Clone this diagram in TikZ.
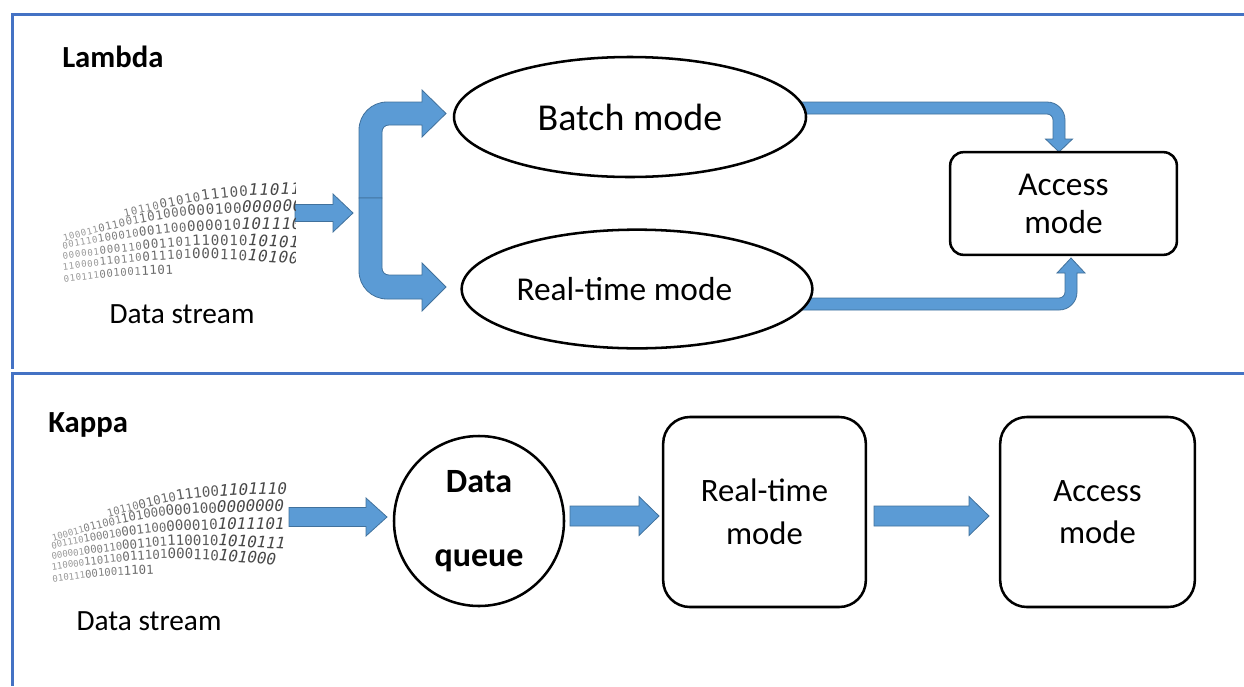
\documentclass[tikz,border=0pt]{standalone}
\usepackage{fontspec}
\setmainfont{Carlito}
\newfontfamily\bitfont{DejaVu Sans Mono}
\usetikzlibrary{calc,decorations.text,shapes.geometric}
\definecolor{panel}{RGB}{68,114,196}
\definecolor{afill}{RGB}{91,155,213}
\definecolor{aedge}{RGB}{65,113,156}
\pgfdeclarelayer{bg}
\pgfsetlayers{bg,main}
\newcommand\bsA{\bitfont\fontsize{6.8}{7}\selectfont\color{black!40}}
\newcommand\bsB{\bitfont\fontsize{8}{8}\selectfont\color{black!50}}
\newcommand\bsC{\bitfont\fontsize{9.3}{10}\selectfont\color{black!58}}
\newcommand\bsD{\bitfont\fontsize{10.6}{11}\selectfont\color{black!65}}
\newcommand\bsE{\bitfont\fontsize{11.9}{12}\selectfont\itshape\color{black!72}}
\tikzset{
  bitrow/.style={decorate, decoration={text along path, text align=fit to path, text={#1}}},
  ellip/.style={ellipse, draw, line width=1.9pt, fill=white, inner sep=0pt},
  rbox/.style={rectangle, draw, line width=1.9pt, fill=white, align=center, inner sep=0pt},
  circ/.style={circle, draw, line width=1.9pt, fill=white, align=center, inner sep=0pt},
  blockarrow/.style={fill=afill, draw=aedge, line width=0.6pt, line join=miter},
  panelline/.style={draw=panel, line width=2.25pt},
  lbl/.style={inner sep=0pt}
}
\newcommand\harrow[6]{%
  \filldraw[blockarrow] ({#1},{#4-#5}) -- ({#2},{#4-#5}) -- ({#2},{#4-#6}) -- ({#3},{#4})
    -- ({#2},{#4+#6}) -- ({#2},{#4+#5}) -- ({#1},{#4+#5}) -- cycle;}
\newcommand\bitrows[3]{%
  \path[bitrow={|\bsB|10110|\bsC|01010|\bsD|11100|\bsE|1101110}]
    ({#2+#1*56},{#3+27}) .. controls ({#2+#1*140},{#3+6}) .. ({#2+#1*235},{#3+4});
  \path[bitrow={|\bsA|100011|\bsB|011001|\bsC|101000|\bsD|000100|\bsE|00000001}]
    ({#2+#1*1},{#3+51}) .. controls ({#2+#1*100},{#3+24}) .. ({#2+#1*236},{#3+21});
  \path[bitrow={|\bsA|001110|\bsB|100010|\bsC|001100|\bsD|000010|\bsE|10111010}]
    ({#2+#1*0},{#3+59}) .. controls ({#2+#1*100},{#3+40}) .. ({#2+#1*235},{#3+39});
  \path[bitrow={|\bsA|000001|\bsB|000110|\bsC|001101|\bsD|110010|\bsE|1010111}]
    ({#2+#1*0},{#3+69}) .. controls ({#2+#1*120},{#3+53}) .. ({#2+#1*233},{#3+59});
  \path[bitrow={|\bsA|110000|\bsB|110110|\bsC|011101|\bsD|000110|\bsE|101000}]
    ({#2+#1*0},{#3+80}) .. controls ({#2+#1*110},{#3+66}) .. ({#2+#1*223},{#3+75});
  \path[bitrow={|\bsA|010111|\bsB|001001|\bsC|1101}]
    ({#2+#1*1},{#3+92}) .. controls ({#2+#1*50},{#3+86}) .. ({#2+#1*100},{#3+84});
}
\begin{document}
\begin{tikzpicture}[x=0.75pt,y=-0.75pt]
\useasboundingbox (0,0) rectangle (1244,686);
% panels
\draw[panelline] (1244,14) -- (12,14) -- (12,369);
\draw[panelline] (1244,373) -- (12,373) -- (12,686);

% ---------- Lambda ----------
\node[lbl, anchor=base west, font=\bfseries\fontsize{23}{25}\selectfont] (lambda) at (62,67) {Lambda};
\node[lbl, anchor=base, font=\fontsize{22}{24}\selectfont] (dsl) at (182,323) {Data stream};
\begin{scope}
  \clip (40,150) rectangle (295,300);
  \bitrows{1.1}{63}{190}
\end{scope}
\node[ellip, minimum width=264pt, minimum height=90pt, font=\fontsize{28.5}{30}\selectfont] (batch) at (630,117) {Batch mode};
\node[ellip, minimum width=263pt, minimum height=89pt, font=\fontsize{25}{28}\selectfont] (rtl) at (637,289) {Real-time mode\kern19pt};
\node[rbox, minimum width=170pt, minimum height=77pt, rounded corners=10pt, font=\fontsize{25}{28.5}\selectfont] (accl) at (1063.5,203.5) {Access\\mode};

% ---------- Kappa ----------
\node[lbl, anchor=base west, font=\bfseries\fontsize{23}{25}\selectfont] (kappa) at (48,432) {Kappa};
\node[lbl, anchor=base, font=\fontsize{22}{24}\selectfont] (dsk) at (149,630) {Data stream};
\bitrows{1}{52}{490}
\node[circ, minimum size=127.5pt, font=\bfseries\fontsize{25.5}{56}\selectfont] (queue) at (479,521) {\raisebox{-3pt}{Data}\\\raisebox{-3pt}{queue}};
\node[rbox, minimum width=152pt, minimum height=142.5pt, rounded corners=20pt, font=\fontsize{24.5}{32}\selectfont] (rtk) at (764.5,512) {Real-time\\mode};
\node[rbox, minimum width=146pt, minimum height=142.5pt, rounded corners=20pt, font=\fontsize{24.5}{32}\selectfont] (acck) at (1097.5,512) {Access\\mode};

\begin{pgfonlayer}{bg}
  % lambda input arrow
  \harrow{295}{333}{353}{213}{8.5}{19}
  % fork
  \filldraw[blockarrow] (359,198) -- (359,130) .. controls (359,114.5) and (371.5,102) .. (387,102)
    -- (422,102) -- (422,90) -- (446,113.5) -- (422,137) -- (422,125) -- (389,125)
    .. controls (385,125) and (382,128) .. (382,132) -- (382,198) -- cycle;
  \filldraw[blockarrow] (359,198) -- (359,271) .. controls (359,286.5) and (371.5,299) .. (387,299)
    -- (422,299) -- (422,311) -- (446,287) -- (422,263) -- (422,275) -- (389,275)
    .. controls (385,275) and (382,272) .. (382,268) -- (382,198) -- cycle;
  % batch -> access
  \filldraw[blockarrow] (790,102) -- (1047,102) .. controls (1057,102) and (1065,110) .. (1065,120)
    -- (1065,139) -- (1072.5,139) -- (1059,152) -- (1045.5,139) -- (1053,139) -- (1053,120)
    .. controls (1053,116.7) and (1050.3,114) .. (1047,114) -- (790,114) -- cycle;
  % real-time -> access
  \filldraw[blockarrow] (790,298) -- (1059,298) .. controls (1062.3,298) and (1065,295.3) .. (1065,292)
    -- (1065,273) -- (1057,273) -- (1071,258) -- (1085,273) -- (1077,273) -- (1077,292)
    .. controls (1077,302) and (1069,310) .. (1059,310) -- (790,310) -- cycle;
  % kappa arrows
  \harrow{289}{366}{387}{517}{9.5}{19}
  \harrow{570}{639}{659}{516}{10}{19.5}
  \harrow{874}{969}{989}{516}{10}{19.5}
\end{pgfonlayer}
\end{tikzpicture}
\end{document}
